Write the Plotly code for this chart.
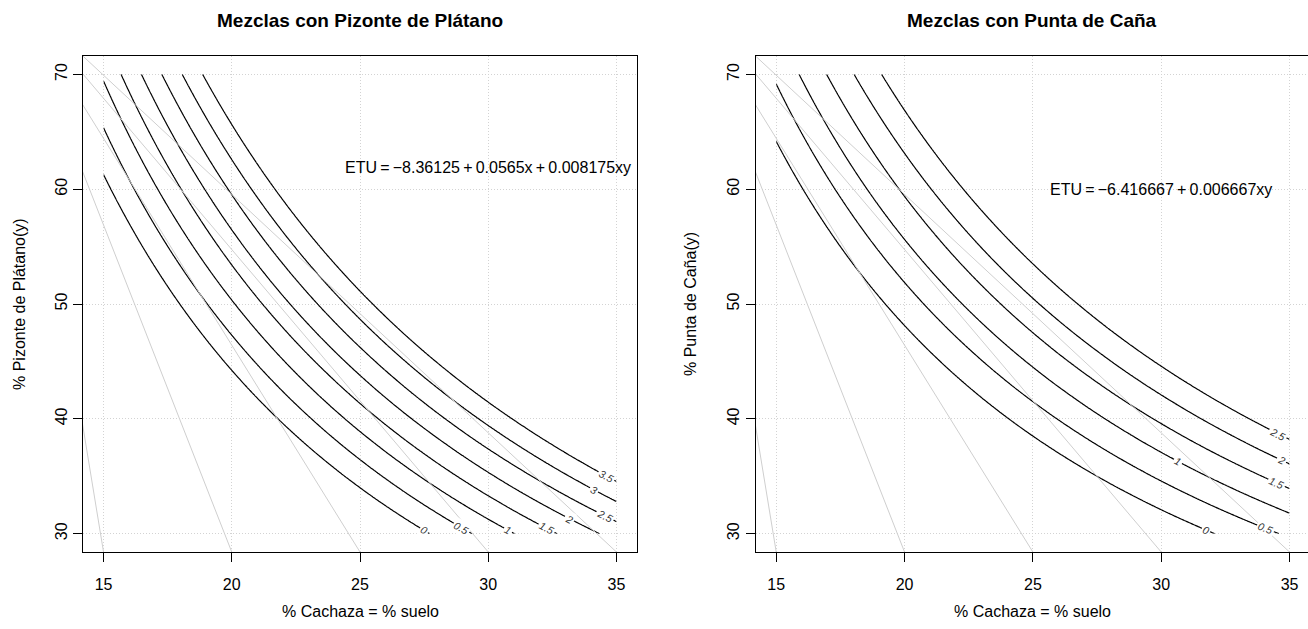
import math
import numpy as np
import plotly.graph_objects as go

# ---- data -----------------------------------------------------------------
# fitted response surfaces: ETU = b0 + bx*x + by*y + bxy*x*y
coef_platano = [-8.36125, 0.0565, 0.0, 0.008175]
coef_cana = [-6.416667, 0.0, 0.0, 0.006667]

levels_platano = [0, 0.5, 1, 1.5, 2, 2.5, 3, 3.5]
levels_cana = [0, 0.5, 1, 1.5, 2, 2.5]

# x position of each contour label along its line
label_x_platano = [27.5, 28.96, 30.78, 32.28, 33.16, 34.57, 34.14, 34.6]
label_x_cana = [31.74, 34.05, 30.64, 34.5, 34.7, 34.54]

# experimental region
x_limits = [15, 35]
y_limits = [30, 70]

# grey guide lines: common point and where each meets the bottom of the frame
guide_origin = [11.4, 77.4]
guide_end_x = [15, 20, 25, 30, 35]
guide_end_y = 28.4

x_ticks = [15, 20, 25, 30, 35]
y_ticks = [30, 40, 50, 60, 70]

eq_platano = "ETU\u2009=\u2009\u22128.36125\u2009+\u20090.0565x\u2009+\u20090.008175xy"
eq_cana = "ETU\u2009=\u2009\u22126.416667\u2009+\u20090.006667xy"
eq_pos_platano = [30, 61.9]
eq_pos_cana = [30, 60]

titles = ["Mezclas con Pizonte de Plátano", "Mezclas con Punta de Caña"]
x_title = "% Cachaza = % suelo"
y_titles = ["% Pizonte de Plátano(y)", "% Punta de Caña(y)"]

# ---- layout geometry --------------------------------------------------------
W, H = 1308, 629
ML, MR, MT, MB = 83, 0, 56, 77
PW = W - ML - MR
PH = H - MT - MB
left_px = (83, 637)
right_px = (755.7, 1308)
x_range_l = [14.2, 35.8]
x_range_r = [14.2, 35.72]
y_range = [28.4, 71.6]

FONT = "Liberation Sans, Arial, sans-serif"


def px_to_paper_x(px):
    return (px - ML) / PW


def py_to_paper_y(py):
    return (H - MB - py) / PH


def surface(coef, xs, ys):
    X, Y = np.meshgrid(xs, ys)
    return coef[0] + coef[1] * X + coef[2] * Y + coef[3] * X * Y


def level_y(coef, level, x):
    return (level - coef[0] - coef[1] * x) / (coef[2] + coef[3] * x)


def level_slope(coef, level, x):
    n = level - coef[0] - coef[1] * x
    d = coef[2] + coef[3] * x
    return (-coef[1] * d - n * coef[3]) / d ** 2


fig = go.Figure()

xs = np.linspace(x_limits[0], x_limits[1], 401)
ys = np.linspace(y_limits[0], y_limits[1], 401)

panels = [
    ("x", "y", coef_platano, levels_platano, label_x_platano, left_px, x_range_l),
    ("x2", "y2", coef_cana, levels_cana, label_x_cana, right_px, x_range_r),
]

annotations = []
for xa, ya, coef, levels, lab_x, pxs, xr in panels:
    # guide lines
    for ex in guide_end_x:
        fig.add_trace(go.Scatter(
            x=[guide_origin[0], ex], y=[guide_origin[1], guide_end_y],
            mode="lines", line=dict(color="#cfcfcf", width=1),
            xaxis=xa, yaxis=ya, hoverinfo="skip", showlegend=False))
    # contours of the fitted surface
    fig.add_trace(go.Contour(
        x=xs, y=ys, z=surface(coef, xs, ys),
        contours=dict(start=levels[0], end=levels[-1], size=0.5,
                      coloring="lines", showlabels=False),
        colorscale=[[0, "black"], [1, "black"]], showscale=False,
        line=dict(width=1.2), xaxis=xa, yaxis=ya, hoverinfo="skip"))
    # contour labels
    kx = (pxs[1] - pxs[0]) / (xr[1] - xr[0])
    ky = PH / (y_range[1] - y_range[0])
    for lev, lx in zip(levels, lab_x):
        ly = level_y(coef, lev, lx)
        ang = math.degrees(math.atan(-level_slope(coef, lev, lx) * ky / kx))
        annotations.append(dict(
            x=lx, y=ly, xref=xa, yref=ya, text=f"{lev:g}", showarrow=False,
            textangle=ang, bgcolor="white", borderpad=1,
            font=dict(family=FONT, size=10.5, color="#333333", style="italic")))

# equations
annotations.append(dict(x=eq_pos_platano[0], y=eq_pos_platano[1], xref="x", yref="y",
                        text=eq_platano, showarrow=False,
                        font=dict(family=FONT, size=16, color="black")))
annotations.append(dict(x=eq_pos_cana[0], y=eq_pos_cana[1], xref="x2", yref="y2",
                        text=eq_cana, showarrow=False,
                        font=dict(family=FONT, size=16, color="black")))

# titles and axis titles
centers = [(left_px[0] + left_px[1]) / 2, 1032]
y_title_px = [19, 690]
for i in range(2):
    annotations.append(dict(x=px_to_paper_x(centers[i]), y=py_to_paper_y(20),
                            xref="paper", yref="paper", text=f"<b>{titles[i]}</b>",
                            showarrow=False, xanchor="center", yanchor="middle",
                            font=dict(family=FONT, size=19, color="black")))
    annotations.append(dict(x=px_to_paper_x(centers[i]), y=py_to_paper_y(611),
                            xref="paper", yref="paper", text=x_title,
                            showarrow=False, xanchor="center", yanchor="middle",
                            font=dict(family=FONT, size=16, color="black")))
    annotations.append(dict(x=px_to_paper_x(y_title_px[i]), y=py_to_paper_y(304),
                            xref="paper", yref="paper", text=y_titles[i],
                            showarrow=False, xanchor="center", yanchor="middle",
                            textangle=-90,
                            font=dict(family=FONT, size=16, color="black")))

axis_common = dict(
    showgrid=True, gridcolor="#d3d3d3", griddash="1px,2px", gridwidth=1,
    zeroline=False, showline=True, linecolor="black", linewidth=1,
    ticks="outside", ticklen=9, tickwidth=1, tickcolor="black",
    tickfont=dict(family=FONT, size=16, color="black"),
)

fig.update_layout(
    width=W, height=H,
    margin=dict(l=ML, r=MR, t=MT, b=MB, pad=0),
    paper_bgcolor="white", plot_bgcolor="white",
    showlegend=False,
    xaxis=dict(domain=[0, px_to_paper_x(left_px[1])], range=x_range_l,
               tickvals=x_ticks, mirror=True, anchor="y",
               ticklabelstandoff=9, **axis_common),
    yaxis=dict(domain=[0, 1], range=y_range, tickvals=y_ticks, tickangle=-90,
               mirror=True, anchor="x", **axis_common),
    xaxis2=dict(domain=[px_to_paper_x(right_px[0]), 1], range=x_range_r,
                tickvals=x_ticks, mirror=True, anchor="y2",
                ticklabelstandoff=9, **axis_common),
    yaxis2=dict(domain=[0, 1], range=y_range, tickvals=y_ticks, tickangle=-90,
                mirror=False, anchor="x2", **axis_common),
    annotations=annotations,
    font=dict(family=FONT),
)

fig.write_html("out.html")
